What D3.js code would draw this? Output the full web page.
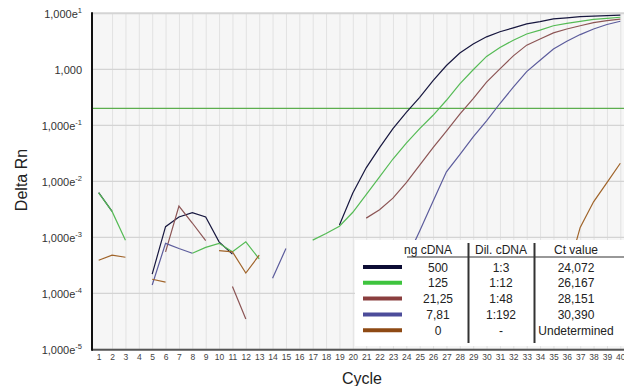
<!DOCTYPE html>
<html>
<head>
<meta charset="utf-8">
<script src="https://cdn.jsdelivr.net/npm/d3@7"></script>
<style>
  body { margin: 0; background: #fff; }
  svg { font-family: Arial, "Liberation Sans", sans-serif; display: block; }
</style>
</head>
<body>
<svg id="chart" width="624" height="386"></svg>
<script>
// cycles 1..40
var cycles = d3.range(1, 41);

// Delta Rn per cycle, null = not drawn
var rn500 = [0.0063, 0.0029, null, null, 0.00022, 0.00155, 0.0023, 0.00275, 0.0023, 0.00083,
  0.0005, null, null, null, null, null, null, null, 0.00166, 0.0062,
  0.0174, 0.040, 0.087, 0.17, 0.316, 0.63, 1.17, 1.95, 2.82, 3.8,
  4.68, 5.5, 6.46, 7.08, 7.94, 8.3, 8.7, 8.9, 9.1, 9.3];
var rn125 = [0.0062, 0.0029, 0.00089, null, null, null, null, 0.00052, 0.00066, 0.00078,
  0.00055, 0.00083, 0.00041, null, null, null, 0.00089, 0.00117, 0.00158, 0.0028,
  0.0058, 0.012, 0.025, 0.048, 0.087, 0.151, 0.28, 0.55, 0.98, 1.7,
  2.45, 3.3, 4.27, 5.0, 6.0, 6.6, 7.2, 7.8, 8.1, 8.5];
var rn2125 = [null, null, null, null, null, 0.00055, 0.0036, 0.0018, 0.00087, null,
  0.000132, 0.0000347, null, null, null, null, null, null, null, null,
  0.0022, 0.0031, 0.0050, 0.0095, 0.0195, 0.040, 0.079, 0.158, 0.30, 0.59,
  1.02, 1.74, 2.7, 3.47, 4.47, 5.25, 6.0, 6.8, 7.4, 7.9];
var rn781 = [null, null, null, null, 0.000141, 0.00078, 0.00063, 0.00052, null, null,
  null, null, null, 0.000186, 0.00063, null, null, null, null, null,
  null, null, null, 0.0004, 0.0013, 0.0044, 0.0148, 0.030, 0.062, 0.12,
  0.245, 0.48, 0.91, 1.45, 2.3, 3.16, 4.17, 5.25, 6.3, 7.2];
var rn0 = [0.00039, 0.00048, 0.00044, null, 0.000178, 0.000158, null, null, null, 0.00058,
  0.00055, 0.00023, 0.00048, null, null, null, null, null, null, null,
  null, null, null, null, null, null, null, null, null, null,
  null, null, null, null, null, 0.00021, 0.0015, 0.0043, 0.0095, 0.021];

var threshold = 0.2;

// legend table
var ngCDNA = ["500", "125", "21,25", "7,81", "0"];
var dilCDNA = ["1:3", "1:12", "1:48", "1:192", "-"];
var ctValue = ["24,072", "26,167", "28,151", "30,390", "Undetermined"];
var lineColors = ["#17173f", "#55bb55", "#8c5555", "#5c5c9c", "#a0642a"];
var legendColors = ["#0c0c34", "#3ec43e", "#8a3e3e", "#4c4c9a", "#8e4a14"];

var yTicks = [10, 1, 0.1, 0.01, 0.001, 0.0001, 0.00001];
var yTickExp = ["1", "", "-1", "-2", "-3", "-4", "-5"];

var series = [rn500, rn125, rn2125, rn781, rn0];

var svg = d3.select("#chart");

var x = d3.scaleLinear().domain([0.5, 40.5]).range([92, 627]);
var y = d3.scaleLog().domain([1e-5, 10]).range([349.3, 13.3]);

// plot background
svg.append("rect")
  .attr("x", 92).attr("y", y(10))
  .attr("width", 624 - 92).attr("height", y(1e-5) - y(10))
  .attr("fill", "#f6f6f6");

// vertical grid
svg.append("g").selectAll("line")
  .data(cycles.slice(1))
  .enter().append("line")
    .attr("x1", function(d) { return x(d) + 0.5; })
    .attr("x2", function(d) { return x(d) + 0.5; })
    .attr("y1", y(10)).attr("y2", y(1e-5))
    .attr("stroke", "#e2e2e2").attr("stroke-width", 1);

// horizontal grid
svg.append("g").selectAll("line")
  .data(yTicks)
  .enter().append("line")
    .attr("x1", 92).attr("x2", 624)
    .attr("y1", function(d) { return y(d); })
    .attr("y2", function(d) { return y(d); })
    .attr("stroke", "#d4d4d4").attr("stroke-width", function(d) { return d == 10 ? 2 : 1.2; });

// threshold
svg.append("line")
  .attr("x1", 92).attr("x2", 624)
  .attr("y1", y(threshold)).attr("y2", y(threshold))
  .attr("stroke", "#5cae4e").attr("stroke-width", 1.2);

// curves
var line = d3.line()
  .defined(function(d) { return d != null; })
  .x(function(d, i) { return x(cycles[i]); })
  .y(function(d) { return y(d); });

svg.append("g").selectAll("path")
  .data(series)
  .enter().append("path")
    .attr("d", function(d) { return line(d); })
    .attr("fill", "none")
    .attr("stroke", function(d, i) { return lineColors[i]; })
    .attr("stroke-width", 1.2);

// axes lines
svg.append("line")
  .attr("x1", 92).attr("x2", 624)
  .attr("y1", y(1e-5) + 0.5).attr("y2", y(1e-5) + 0.5)
  .attr("stroke", "#555").attr("stroke-width", 2);
svg.append("line")
  .attr("x1", 92).attr("x2", 92)
  .attr("y1", y(10) - 1).attr("y2", y(1e-5) + 1.5)
  .attr("stroke", "#111").attr("stroke-width", 2);

// y tick labels
var yl = svg.append("g").selectAll("text")
  .data(yTicks)
  .enter().append("text")
    .attr("x", 82)
    .attr("y", function(d) { return y(d) + 5; })
    .attr("text-anchor", "end")
    .attr("font-size", 11)
    .attr("fill", "#333");
yl.append("tspan").text(function(d, i) { return yTickExp[i] == "" ? "1,000" : "1,000e"; });
yl.append("tspan")
  .attr("font-size", 7.5)
  .attr("dy", -5)
  .text(function(d, i) { return yTickExp[i]; });

// x tick labels
svg.append("g").selectAll("text")
  .data(cycles)
  .enter().append("text")
    .attr("x", function(d) { return x(d) + 0.5; })
    .attr("y", 360)
    .attr("text-anchor", "middle")
    .attr("font-size", 8.5)
    .attr("fill", "#444")
    .text(function(d) { return d; });

// axis titles
svg.append("text")
  .attr("transform", "translate(27,180) rotate(-90)")
  .attr("text-anchor", "middle")
  .attr("font-size", 16)
  .attr("fill", "#222")
  .text("Delta Rn");
svg.append("text")
  .attr("x", 362).attr("y", 384)
  .attr("text-anchor", "middle")
  .attr("font-size", 16)
  .attr("fill", "#222")
  .text("Cycle");

// legend table
var lg = svg.append("g");
lg.append("rect")
  .attr("x", 355).attr("y", 240)
  .attr("width", 270).attr("height", 106)
  .attr("fill", "#fff");

var colX = [438, 501, 576];
var headers = ["ng cDNA", "Dil. cDNA", "Ct value"];
lg.selectAll("text.h")
  .data(headers)
  .enter().append("text")
    .attr("class", "h")
    .attr("x", function(d, i) { return i == 0 ? 428 : colX[i]; })
    .attr("y", 254)
    .attr("text-anchor", "middle")
    .attr("font-size", 12)
    .attr("fill", "#222")
    .text(function(d) { return d; });

lg.append("line")
  .attr("x1", 407).attr("x2", 624)
  .attr("y1", 257).attr("y2", 257)
  .attr("stroke", "#333").attr("stroke-width", 1.2);
lg.selectAll("line.sep")
  .data([468.5, 534.5])
  .enter().append("line")
    .attr("class", "sep")
    .attr("x1", function(d) { return d; }).attr("x2", function(d) { return d; })
    .attr("y1", 243).attr("y2", 343)
    .attr("stroke", "#333").attr("stroke-width", 2);

var rowY = function(i) { return 267 + i * 15.8; };
lg.selectAll("line.key")
  .data(ngCDNA)
  .enter().append("line")
    .attr("class", "key")
    .attr("x1", 363).attr("x2", 402)
    .attr("y1", function(d, i) { return rowY(i); })
    .attr("y2", function(d, i) { return rowY(i); })
    .attr("stroke", function(d, i) { return legendColors[i]; })
    .attr("stroke-width", 4);

[ngCDNA, dilCDNA, ctValue].forEach(function(col, c) {
  lg.selectAll("text.c" + c)
    .data(col)
    .enter().append("text")
      .attr("class", "c" + c)
      .attr("x", colX[c])
      .attr("y", function(d, i) { return rowY(i) + 4.5; })
      .attr("text-anchor", "middle")
      .attr("font-size", 12)
      .attr("fill", "#222")
      .text(function(d) { return d; });
});
</script>
</body>
</html>
